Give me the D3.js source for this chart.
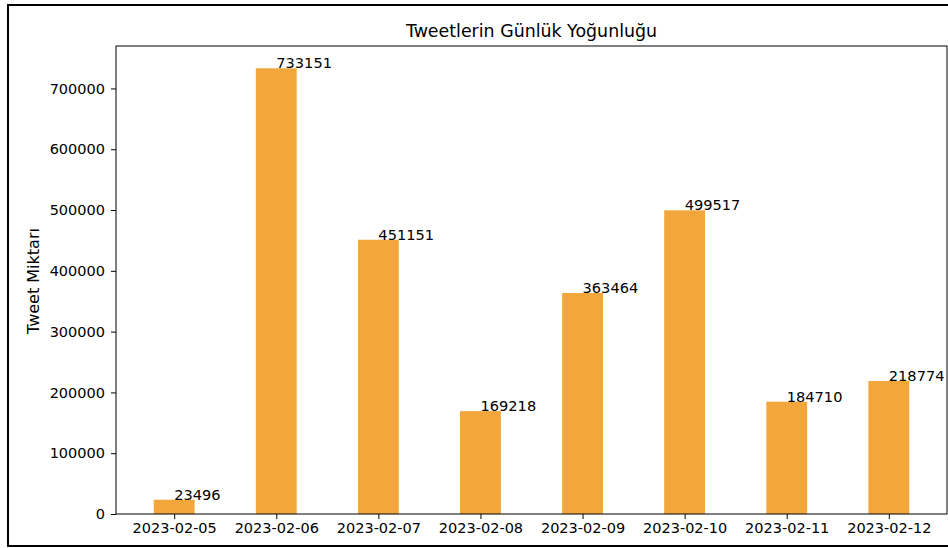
<!DOCTYPE html>
<html>
<head>
<meta charset="utf-8">
<script src="https://cdn.jsdelivr.net/npm/d3@7"></script>
<style>
  html, body { margin: 0; padding: 0; background: #fff; }
  svg { display: block; }
  text { font-family: "DejaVu Sans", sans-serif; fill: #000; }
</style>
</head>
<body>
<svg id="chart" width="948" height="548"></svg>
<script>
// Daily tweet counts
const days = ["2023-02-05", "2023-02-06", "2023-02-07", "2023-02-08",
              "2023-02-09", "2023-02-10", "2023-02-11", "2023-02-12"];
const tweetCounts = [23496, 733151, 451151, 169218, 363464, 499517, 184710, 218774];
const yTicks = [0, 100000, 200000, 300000, 400000, 500000, 600000, 700000];

const svg = d3.select("#chart");

// Figure frame
svg.append("rect")
  .attr("x", 8).attr("y", 5)
  .attr("width", 960).attr("height", 541)
  .attr("fill", "none").attr("stroke", "#000").attr("stroke-width", 2);

const plot = { left: 116, right: 947, top: 46, bottom: 514 };
const barWidth = 0.4;

// Numeric category positions, padded like an autoscaled bar axis
const pad = (days.length - 1 + barWidth) * 0.05;
const x = d3.scaleLinear()
  .domain([-barWidth / 2 - pad, days.length - 1 + barWidth / 2 + pad])
  .range([plot.left, plot.right]);

const yMax = d3.max(tweetCounts) * 1.05;
const y = d3.scaleLinear().domain([0, yMax]).range([plot.bottom, plot.top]);

// Bars
svg.append("g").selectAll("rect")
  .data(tweetCounts)
  .join("rect")
  .attr("x", (d, i) => x(i - barWidth / 2))
  .attr("y", d => y(d))
  .attr("width", (d, i) => x(i + barWidth / 2) - x(i - barWidth / 2))
  .attr("height", d => y(0) - y(d))
  .attr("fill", "#f2a63b");

// Value labels, left-aligned at bar centre, baseline at bar top
svg.append("g").selectAll("text")
  .data(tweetCounts)
  .join("text")
  .attr("x", (d, i) => x(i))
  .attr("y", d => y(d))
  .attr("font-size", "14.6px")
  .text(d => d);

// Axes
const xAxis = d3.axisBottom(x)
  .tickValues(d3.range(days.length))
  .tickFormat(i => days[i])
  .tickSizeOuter(0).tickSize(5).tickPadding(4);
const gx = svg.append("g")
  .attr("transform", `translate(0,${plot.bottom})`)
  .call(xAxis);

const yAxis = d3.axisLeft(y)
  .tickValues(yTicks)
  .tickFormat(d3.format("d"))
  .tickSizeOuter(0).tickSize(5).tickPadding(6);
const gy = svg.append("g")
  .attr("transform", `translate(${plot.left},0)`)
  .call(yAxis);

[gx, gy].forEach(g => {
  g.select(".domain").remove();
  g.selectAll(".tick line").attr("stroke", "#000").attr("stroke-width", 1);
  g.selectAll(".tick text")
    .attr("font-family", "DejaVu Sans, sans-serif")
    .attr("font-size", "14.5px").attr("fill", "#000");
});

// Axes frame
svg.append("rect")
  .attr("x", plot.left).attr("y", plot.top)
  .attr("width", plot.right - plot.left).attr("height", plot.bottom - plot.top)
  .attr("fill", "none").attr("stroke", "#000").attr("stroke-width", 1);

// Title
svg.append("text")
  .attr("x", (plot.left + plot.right) / 2)
  .attr("y", 37)
  .attr("text-anchor", "middle")
  .attr("font-size", "17.4px")
  .text("Tweetlerin Günlük Yoğunluğu");

// Y axis label
svg.append("text")
  .attr("transform", `translate(39,${(plot.top + plot.bottom) / 2 + 1}) rotate(-90)`)
  .attr("text-anchor", "middle")
  .attr("font-size", "16px")
  .text("Tweet Miktarı");
</script>
</body>
</html>
